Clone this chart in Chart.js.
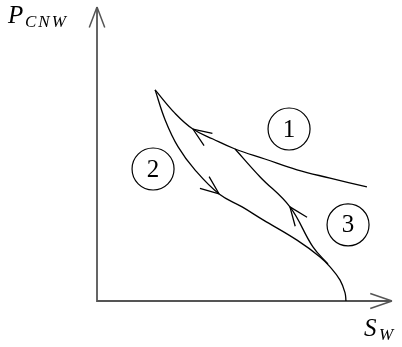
<!DOCTYPE html>
<html>
<head>
<meta charset="utf-8">
<script src="https://cdn.jsdelivr.net/npm/chart.js@4.4.0/dist/chart.umd.min.js"></script>
<style>
  html, body { margin: 0; padding: 0; background: #fff; }
  #wrap { width: 402px; height: 347px; }
</style>
</head>
<body>
<div id="wrap"><canvas id="pcChart"></canvas></div>
<script>
// water saturation (x) and capillary pressure (y), both scaled 0..1 up to the axis arrow tips
// branch 1: from the right end back up to the cusp
const drainSw = [0.915, 0.790, 0.678, 0.569, 0.468, 0.393, 0.325, 0.264, 0.197];
const drainPc = [0.388, 0.418, 0.446, 0.483, 0.517, 0.551, 0.585, 0.639, 0.718];
// branch 2: from the cusp down to the saturation axis
const imbSw = [0.197, 0.231, 0.275, 0.332, 0.414, 0.492, 0.563, 0.678, 0.756, 0.790, 0.824, 0.841, 0.844];
const imbPc = [0.718, 0.616, 0.524, 0.446, 0.364, 0.320, 0.276, 0.207, 0.150, 0.116, 0.071, 0.027, 0.000];
// branch 3: scanning curve, from branch 2 up to branch 1
const scanSw = [0.783, 0.732, 0.654, 0.553, 0.468];
const scanPc = [0.126, 0.184, 0.320, 0.422, 0.517];
// which point of each branch carries the direction arrow
const arrowAt = [6, 4, 2];

// numbered region markers
const regionSw = [0.651, 0.190, 0.851];
const regionPc = [0.585, 0.449, 0.259];
const regionLabels = ['1', '2', '3'];

const toPoints = (xs, ys) => xs.map((x, i) => ({ x: x, y: ys[i] }));

function chevron(ctx, x, y, ux, uy, len, spread) {
    // open arrow head with its tip at (x, y) pointing along (ux, uy)
    ctx.beginPath();
    [spread, -spread].forEach(a => {
        const c = Math.cos(a), s = Math.sin(a);
        const bx = -(ux * c - uy * s), by = -(ux * s + uy * c);
        ctx.moveTo(x + bx * len, y + by * len);
        ctx.lineTo(x, y);
    });
    ctx.stroke();
}

const axesPlugin = {
    id: 'phaseAxes',
    beforeDatasetsDraw(chart) {
        const ctx = chart.ctx;
        const xs = chart.scales.x, ys = chart.scales.y;
        const x0 = xs.getPixelForValue(0), y0 = ys.getPixelForValue(0);
        const x1 = xs.getPixelForValue(1), y1 = ys.getPixelForValue(1);
        ctx.save();
        ctx.strokeStyle = '#555';
        ctx.lineWidth = 1.8;
        ctx.beginPath();
        ctx.moveTo(x0, y1 + 1);
        ctx.lineTo(x0, y0);
        ctx.lineTo(x1 - 1, y0);
        ctx.stroke();
        ctx.lineWidth = 1.5;
        chevron(ctx, x0, y1, 0, -1, 22, 0.36);
        chevron(ctx, x1, y0, 1, 0, 23, 0.33);

        ctx.fillStyle = '#000';
        ctx.textBaseline = 'alphabetic';
        ctx.font = 'italic 25px "Liberation Serif"';
        ctx.fillText('P', 8, 23);
        ctx.font = 'italic 17px "Liberation Serif"';
        ctx.letterSpacing = '2px';
        ctx.fillText('CNW', 25, 27);
        ctx.letterSpacing = '0px';
        ctx.font = 'italic 25px "Liberation Serif"';
        ctx.fillText('S', 364, 336);
        ctx.font = 'italic 17px "Liberation Serif"';
        ctx.fillText('W', 379, 340);
        ctx.restore();
    },
    afterDatasetsDraw(chart) {
        const ctx = chart.ctx;
        ctx.save();
        ctx.strokeStyle = '#000';
        ctx.lineWidth = 1.3;
        [0, 1, 2].forEach(d => {
            const pts = chart.getDatasetMeta(d).data;
            const i = arrowAt[d];
            const p = pts[i];
            let dx = p.cp2x - p.cp1x, dy = p.cp2y - p.cp1y;
            if (!isFinite(dx) || !isFinite(dy) || (dx === 0 && dy === 0)) {
                dx = pts[i + 1].x - pts[i - 1].x;
                dy = pts[i + 1].y - pts[i - 1].y;
            }
            const n = Math.hypot(dx, dy);
            chevron(ctx, p.x, p.y, dx / n, dy / n, 20, 0.38);
        });

        // region numbers inside the circles
        const circles = chart.getDatasetMeta(3).data;
        ctx.fillStyle = '#000';
        ctx.font = '25px "Liberation Serif"';
        ctx.textAlign = 'center';
        ctx.textBaseline = 'middle';
        circles.forEach((c, i) => ctx.fillText(regionLabels[i], c.x, c.y + 1));
        ctx.restore();
    }
};

const curveStyle = {
    showLine: true,
    borderColor: '#000',
    borderWidth: 1.3,
    pointRadius: 0,
    tension: 0.4,
    fill: false
};

const ctx = document.getElementById('pcChart').getContext('2d');
new Chart(ctx, {
    type: 'scatter',
    data: {
        datasets: [
            Object.assign({ label: 'branch 1', data: toPoints(drainSw, drainPc) }, curveStyle),
            Object.assign({ label: 'branch 2', data: toPoints(imbSw, imbPc) }, curveStyle),
            Object.assign({ label: 'branch 3', data: toPoints(scanSw, scanPc) }, curveStyle),
            {
                label: 'regions',
                data: toPoints(regionSw, regionPc),
                showLine: false,
                pointRadius: 21,
                pointBorderWidth: 1.2,
                pointBorderColor: '#000',
                pointBackgroundColor: 'rgba(0,0,0,0)'
            }
        ]
    },
    options: {
        responsive: true,
        maintainAspectRatio: false,
        animation: false,
        layout: { autoPadding: false, padding: { left: 97, right: 10, top: 7, bottom: 46 } },
        plugins: {
            legend: { display: false },
            tooltip: { enabled: false }
        },
        scales: {
            x: { type: 'linear', min: 0, max: 1, display: false },
            y: { type: 'linear', min: 0, max: 1, display: false }
        }
    },
    plugins: [axesPlugin]
});
</script>
</body>
</html>
